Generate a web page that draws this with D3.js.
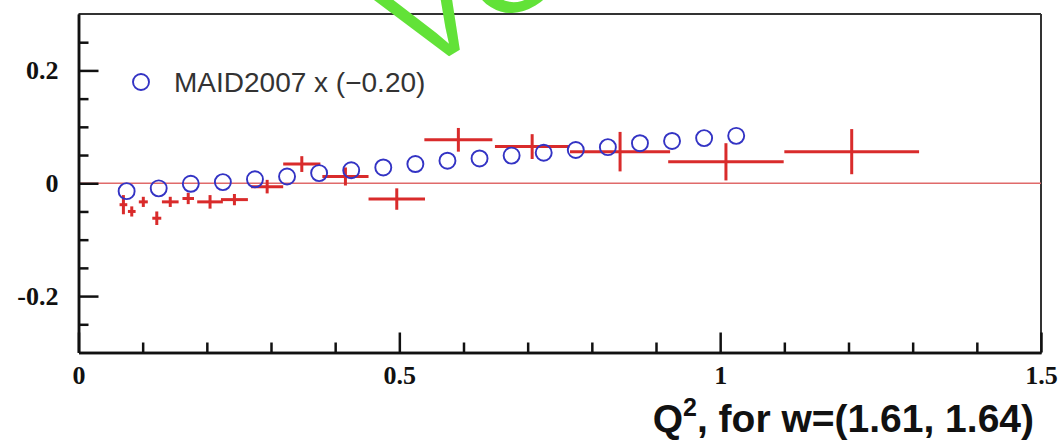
<!DOCTYPE html>
<html>
<head>
<meta charset="utf-8">
<script src="https://cdn.jsdelivr.net/npm/d3@7"></script>
<style>
  html, body { margin: 0; padding: 0; background: #fff; }
  svg { display: block; }
</style>
</head>
<body>
<svg id="chart" width="1060" height="440"></svg>
<script>
// ---- data ----
const modelQ2  = [0.075, 0.125, 0.175, 0.225, 0.275, 0.325, 0.375, 0.425, 0.475, 0.525,
                  0.575, 0.625, 0.675, 0.725, 0.775, 0.825, 0.875, 0.925, 0.975, 1.025];
const modelVal = [-0.014, -0.009, -0.001, 0.002, 0.007, 0.012, 0.018, 0.023, 0.028, 0.034,
                  0.040, 0.044, 0.049, 0.054, 0.059, 0.064, 0.071, 0.075, 0.080, 0.084];

const dataQ2    = [0.070, 0.083, 0.101, 0.122, 0.143, 0.171, 0.205, 0.243, 0.294, 0.348,
                   0.416, 0.496, 0.592, 0.707, 0.844, 1.009, 1.205];
const dataQ2Err = [0.006, 0.006, 0.007, 0.007, 0.013, 0.009, 0.020, 0.021, 0.025, 0.029,
                   0.036, 0.044, 0.053, 0.058, 0.078, 0.090, 0.105];
const dataVal   = [-0.038, -0.050, -0.033, -0.062, -0.033, -0.027, -0.033, -0.029, -0.006, 0.034,
                   0.012, -0.028, 0.077, 0.065, 0.056, 0.038, 0.056];
const dataErr   = [0.017, 0.009, 0.009, 0.012, 0.009, 0.010, 0.012, 0.010, 0.012, 0.014,
                   0.016, 0.019, 0.021, 0.022, 0.035, 0.033, 0.040];

const xMajor = [0, 0.5, 1, 1.5];
const xMajorLabels = ["0", "0.5", "1", "1.5"];
const xMinor = [0.1, 0.2, 0.3, 0.4, 0.6, 0.7, 0.8, 0.9, 1.1, 1.2, 1.3, 1.4];
const yMajor = [-0.2, 0, 0.2];
const yMajorLabels = ["-0.2", "0", "0.2"];
const yMinor = [-0.25, -0.15, -0.1, -0.05, 0.05, 0.1, 0.15, 0.25];

const legendLabel = "MAID2007 x (\u22120.20)";
const xTitleMain = "Q";
const xTitleSup = "2";
const xTitleRest = ", for w=(1.61, 1.64)";
const watermark = "VO";

// ---- layout ----
const svg = d3.select("#chart");
const x = d3.scaleLinear().domain([0, 1.5]).range([78.5, 1041]);
const y = d3.scaleLinear().domain([-0.3, 0.3]).range([352.5, 14]);

const red = "#d92b2b";
const blue = "#3333c4";

// frame top/right
svg.append("line").attr("x1", x(0)).attr("x2", x(1.5)).attr("y1", y(0.3)).attr("y2", y(0.3))
  .attr("stroke", "#333").attr("stroke-width", 2);
svg.append("line").attr("x1", x(1.5)).attr("x2", x(1.5)).attr("y1", y(0.3)).attr("y2", y(-0.3))
  .attr("stroke", "#333").attr("stroke-width", 2);

// zero line
svg.append("line").attr("x1", x(0)).attr("x2", x(1.5)).attr("y1", y(0)).attr("y2", y(0))
  .attr("stroke", "#e06a6a").attr("stroke-width", 1.3);

// axes
function styleAxis(g) {
  g.select(".domain").attr("stroke", "#111").attr("stroke-width", 2.5);
  g.selectAll(".tick line").attr("stroke", "#111").attr("stroke-width", 2.5);
  g.selectAll(".tick text").attr("fill", "#111")
    .attr("font-family", "'Liberation Serif', 'DejaVu Serif', serif")
    .attr("font-weight", "bold").attr("font-size", 26);
}
const gx = svg.append("g").attr("transform", `translate(0,${y(-0.3)})`);
gx.call(d3.axisBottom(x).tickValues(xMinor).tickSize(-10).tickSizeOuter(0).tickFormat(""));
gx.call(styleAxis);
const gx2 = svg.append("g").attr("transform", `translate(0,${y(-0.3)})`);
gx2.call(d3.axisBottom(x).tickValues(xMajor).tickSize(-20).tickSizeOuter(0).tickPadding(13)
  .tickFormat((d, i) => xMajorLabels[i]));
gx2.call(styleAxis);

const gy = svg.append("g").attr("transform", `translate(${x(0)},0)`);
gy.call(d3.axisLeft(y).tickValues(yMinor).tickSize(-10).tickSizeOuter(0).tickFormat(""));
gy.call(styleAxis);
const gy2 = svg.append("g").attr("transform", `translate(${x(0)},0)`);
gy2.call(d3.axisLeft(y).tickValues(yMajor).tickSize(-20).tickSizeOuter(0).tickPadding(20)
  .tickFormat((d, i) => yMajorLabels[i]));
gy2.call(styleAxis);

// data crosses
const pts = dataQ2.map((q, i) => ({q, qe: dataQ2Err[i], v: dataVal[i], ve: dataErr[i]}));
const gd = svg.append("g").attr("stroke", red).attr("stroke-width", 3);
gd.selectAll("line.h").data(pts).join("line").attr("class", "h")
  .attr("x1", d => x(d.q - d.qe)).attr("x2", d => x(d.q + d.qe))
  .attr("y1", d => y(d.v)).attr("y2", d => y(d.v));
gd.selectAll("line.v").data(pts).join("line").attr("class", "v")
  .attr("x1", d => x(d.q)).attr("x2", d => x(d.q))
  .attr("y1", d => y(d.v - d.ve)).attr("y2", d => y(d.v + d.ve));

// model circles
svg.append("g").selectAll("circle").data(modelQ2).join("circle")
  .attr("cx", d => x(d)).attr("cy", (d, i) => y(modelVal[i])).attr("r", 8)
  .attr("fill", "none").attr("stroke", blue).attr("stroke-width", 1.9);

// legend
svg.append("circle").attr("cx", 141).attr("cy", 82).attr("r", 8)
  .attr("fill", "none").attr("stroke", blue).attr("stroke-width", 1.9);
svg.append("text").attr("x", 174).attr("y", 92).text(legendLabel)
  .attr("font-family", "'Liberation Sans', Arial, sans-serif").attr("font-size", 28)
  .attr("fill", "#333");

// x title
const t = svg.append("text").attr("x", 1034).attr("y", 432).attr("text-anchor", "end")
  .attr("font-family", "'Liberation Sans', Arial, sans-serif").attr("font-weight", "bold")
  .attr("font-size", 39).attr("fill", "#111");
t.append("tspan").text(xTitleMain);
t.append("tspan").attr("dy", -16).attr("font-size", 25).text(xTitleSup);
t.append("tspan").attr("dy", 16).text(xTitleRest);

// watermark
svg.append("text").text(watermark)
  .attr("transform", "translate(454,53) rotate(-31) translate(-43,0)")
  .attr("font-family", "'Liberation Sans', Arial, sans-serif").attr("font-size", 130)
  .attr("fill", "#62e238");
</script>
</body>
</html>
